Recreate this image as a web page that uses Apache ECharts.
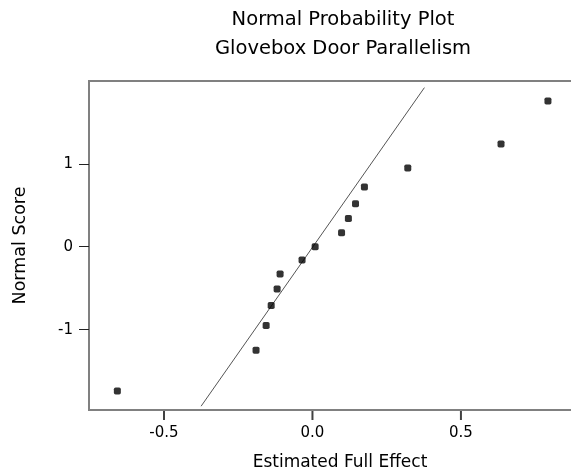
<!DOCTYPE html>
<html>
<head>
<meta charset="utf-8">
<script src="https://cdn.jsdelivr.net/npm/echarts@6/dist/echarts.min.js"></script>
<style>html,body{margin:0;padding:0;background:#fff}#c{width:571px;height:474px}</style>
</head>
<body>
<div id="c"></div>
<script>
const titleLines = ['Normal Probability Plot', 'Glovebox Door Parallelism'];
const xName = 'Estimated Full Effect';
const yName = 'Normal Score';
const effects = [-0.657, -0.19, -0.156, -0.139, -0.119, -0.109, -0.035, 0.009, 0.098, 0.121, 0.145, 0.175, 0.321, 0.635, 0.793];
const scores = [-1.74, -1.25, -0.95, -0.71, -0.51, -0.33, -0.16, 0.0, 0.17, 0.34, 0.52, 0.72, 0.95, 1.24, 1.76];
const lineX = [-0.375, 0.377];
const lineY = [-1.924, 1.92];
const xTicks = [-0.5, 0, 0.5];
const xTickLabels = ['-0.5', '0.0', '0.5'];
const yTicks = [-1, 0, 1];

const xMin = -0.7525, xMax = 0.938, yMin = -1.97, yMax = 2.0;
const font = 'DejaVu Sans';
const fmtX = v => {
  let best = 0;
  xTicks.forEach((t, i) => { if (Math.abs(t - v) < Math.abs(xTicks[best] - v)) best = i; });
  return xTickLabels[best];
};
const chart = echarts.init(document.getElementById('c'), null, {renderer: 'canvas'});
chart.setOption({
  animation: false,
  backgroundColor: '#fff',
  graphic: titleLines.map((t, i) => ({
    type: 'text', x: 343, y: 20 + i * 29,
    style: {text: t, fontFamily: font, fontSize: 19.5, fill: '#000', align: 'center', verticalAlign: 'middle'}
  })),
  grid: {left: 89, top: 81, height: 329, width: 502, outerBoundsMode: 'none', containLabel: false,
         show: true, borderColor: '#808080', borderWidth: 2, backgroundColor: 'transparent'},
  xAxis: {
    type: 'value', min: xMin, max: xMax, position: 'bottom',
    name: xName, nameLocation: 'middle', nameGap: 44,
    nameTextStyle: {fontFamily: font, fontSize: 17, color: '#000'},
    axisLine: {show: true, onZero: false, lineStyle: {color: '#808080', width: 2}},
    axisTick: {show: false},
    axisLabel: {show: true, customValues: xTicks, margin: 16, fontFamily: font, fontSize: 15, color: '#000', formatter: fmtX},
    splitLine: {show: false}
  },
  yAxis: {
    type: 'value', min: yMin, max: yMax,
    name: yName, nameLocation: 'middle', nameGap: 60,
    nameTextStyle: {fontFamily: font, fontSize: 17.5, color: '#000'},
    axisLine: {show: true, onZero: false, lineStyle: {color: '#808080', width: 2}},
    axisTick: {show: true, inside: false, length: 10, customValues: yTicks, lineStyle: {color: '#222', width: 1}},
    axisLabel: {customValues: yTicks, margin: 16, fontFamily: font, fontSize: 15, color: '#000', formatter: v => String(Math.round(v))},
    splitLine: {show: false}
  },
  series: [
    {type: 'line', data: lineX.map((x, i) => [x, lineY[i]]), showSymbol: false, symbol: 'none', silent: true,
     lineStyle: {color: '#555', width: 1}, z: 1},
    {type: 'scatter', data: effects.map((x, i) => [x, scores[i]]), symbol: 'roundRect', symbolSize: 7,
     itemStyle: {color: '#000'}, z: 3},
    {type: 'scatter', name: 'xticks', data: xTicks.map(x => [x, yMin]), symbol: 'rect', symbolSize: [2, 9],
     symbolOffset: [0, 5.5], clip: false, silent: true, itemStyle: {color: '#111'}, z: 4}
  ]
});
</script>
</body>
</html>
